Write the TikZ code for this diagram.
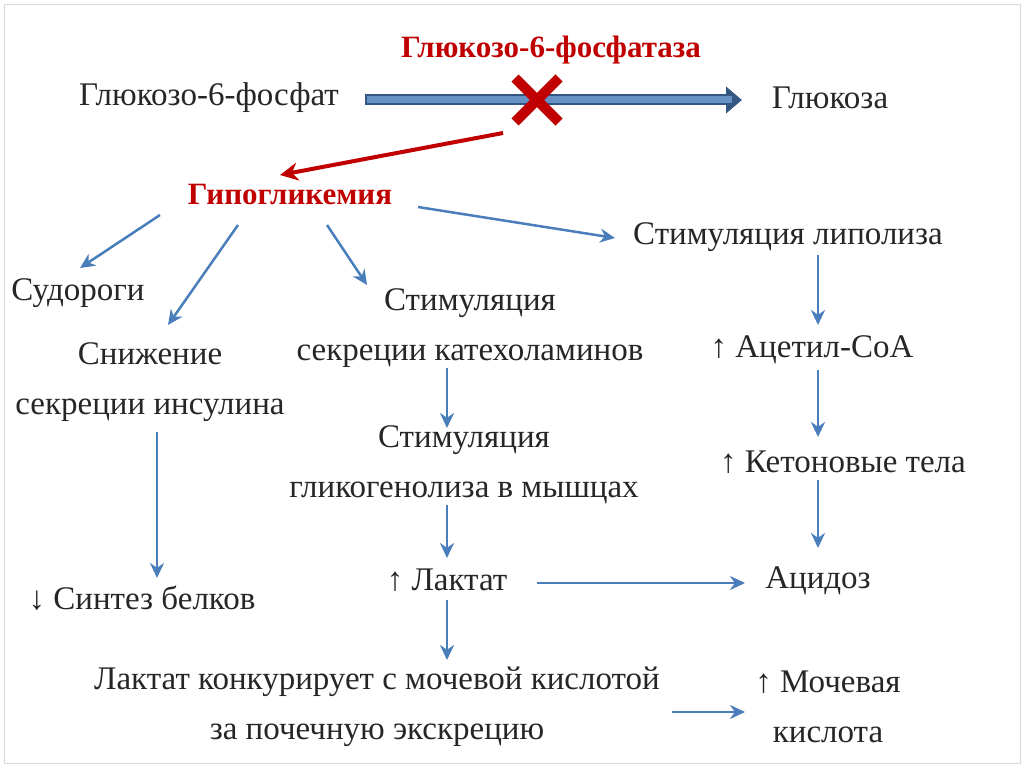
\documentclass[tikz,border=0pt]{standalone}
\usepackage{fontspec}
\setmainfont{Liberation Serif}
\usetikzlibrary{arrows.meta}
\definecolor{ab}{HTML}{4A7EBB}
\definecolor{rd}{HTML}{C00000}
\tikzset{
 lbl/.style={font=\fontsize{33}{50}\selectfont, align=center, inner sep=0pt, text=black!85},
 rlbl/.style={lbl, font=\fontsize{31}{50}\selectfont\bfseries, text=rd},
 arr/.style={draw=ab, line width=2.5pt, -{Stealth[length=15pt,width=14pt]}},
}
\begin{document}
\begin{tikzpicture}[x=1pt,y=-1pt]
\useasboundingbox (0,0) rectangle (1024,767);
\draw[black!15] (4,4) rectangle (1020,763);
\node[rlbl] (enz) at (551,50) {Глюкозо-6-фосфатаза};
\node[lbl] (g6p) at (209,98) {Глюкозо-6-фосфат};
\node[lbl] (glc) at (830,98) {Глюкоза};
\coordinate (a1) at (365,100); \coordinate (a2) at (742,100);
\draw[draw=ab!70!black, line width=11pt, -{Triangle[length=16pt,width=26pt]}] (a1) -- (a2);
\draw[draw=ab!85, line width=7pt, shorten >=10pt] ([xshift=2pt]a1) -- (a2);
\draw[rd, line width=10pt] (515,78) -- (559,122) (559,78) -- (515,122);
\node[rlbl] (hypo) at (290,195) {Гипогликемия};
\coordinate (r1) at (503,133);
\draw[rd, line width=4pt, -{Stealth[length=18pt,width=18pt]}] (r1) -- (280,175);
\node[lbl] (sud) at (78,293) {Судороги};
\node[lbl] (ins) at (150,382) {Снижение\\секреции инсулина};
\node[lbl] (cat) at (470,328) {Стимуляция\\секреции катехоламинов};
\node[lbl] (lip) at (788,237) {Стимуляция липолиза};
\node[lbl] (acoa) at (812,350) {↑ Ацетил-СоА};
\node[lbl] (ket) at (843,462) {↑ Кетоновые тела};
\node[lbl] (aci) at (818,581) {Ацидоз};
\node[lbl] (syn) at (142,598) {↓ Синтез белков};
\node[lbl] (gly) at (464,465) {Стимуляция\\гликогенолиза в мышцах};
\node[lbl] (lac) at (447,580) {↑ Лактат};
\node[lbl] (comp) at (377,707) {Лактат конкурирует с мочевой кислотой\\за почечную экскрецию};
\node[lbl] (uric) at (828,707) {↑ Мочевая\\кислота};
\draw[arr] (160,215) -- (80,268);
\draw[arr] (238,225) -- (168,325);
\draw[arr] (327,225) -- (367,285);
\draw[arr] (418,207) -- (615,238);
\draw[arr] (157,432) -- (157,578);
\draw[arr] (447,368) -- (447,428);
\draw[arr] (447,505) -- (447,558);
\draw[arr] (447,600) -- (447,660);
\draw[arr] (537,583) -- (745,583);
\draw[arr] (672,712) -- (745,712);
\draw[arr] (818,255) -- (818,325);
\draw[arr] (818,370) -- (818,437);
\draw[arr] (818,480) -- (818,548);
\end{tikzpicture}
\end{document}
